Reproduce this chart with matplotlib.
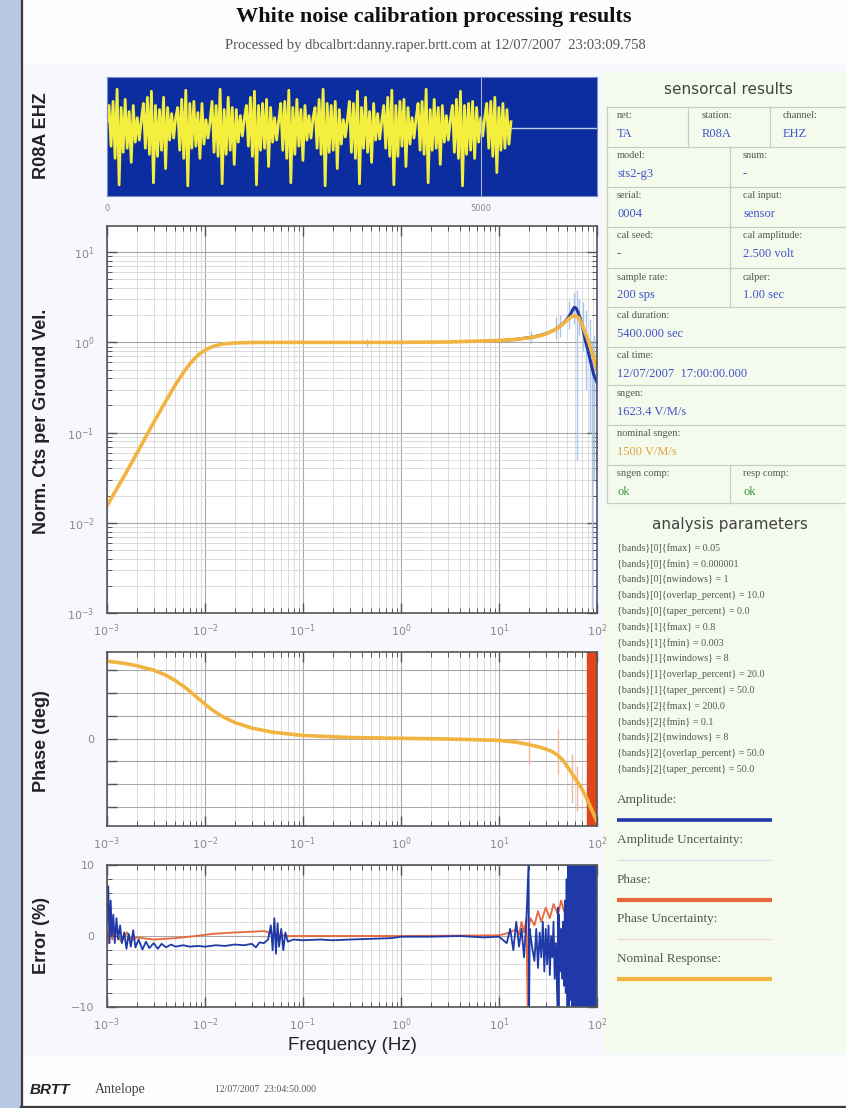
import numpy as np
import matplotlib
matplotlib.use('Agg')
import matplotlib.pyplot as plt
from matplotlib.patches import Rectangle
from matplotlib.ticker import LogLocator, NullFormatter, MultipleLocator

# ---------------- data ----------------
# waveform (R08A EHZ) samples, read by eye
wave_vals = [
    6, 22, -18, 26, -30, 38, -56, 20, -24, 28, -20, 16, -34, 22, -14, 10, -12,
    8, 24, -20, 30, -26, 36, -54, 22, -28, 18, -22, 30, -40, 20, -12, 14, -10,
    10, 20, -22, 28, -30, 37, -57, 24, -20, 26, -18, 15, -30, 24, -16, 8, -10,
    6, 26, -24, 22, -28, 38, -55, 18, -26, 30, -22, 20, -36, 18, -14, 12, -8,
    9, 22, -18, 30, -28, 36, -56, 22, -22, 24, -20, 28, -38, 20, -14, 10, -12,
    7, 24, -22, 26, -30, 37, -54, 20, -26, 28, -18, 18, -32, 22, -12, 12, -10,
    10, 20, -20, 28, -26, 38, -57, 24, -24, 22, -22, 26, -40, 18, -16, 8, -9,
    8, 26, -24, 24, -30, 36, -55, 20, -20, 30, -24, 16, -34, 24, -12, 14, -11,
    6, 22, -20, 30, -28, 37, -56, 22, -28, 26, -18, 28, -38, 20, -16, 10, -10,
    9, 24, -22, 26, -26, 38, -54, 18, -22, 28, -20, 20, -36, 22, -14, 12, -12,
    8, 22, -24, 28, -30, 36, -57, 22, -26, 24, -22, 26, -30, 20, -14, 10, -8,
    10, 24, -20, 26, -28, 30, -44, 20, -22, 24, -20, 18, -16, 6,
]
wave_end = 5400
wave_xmax = 6550
wave_ticks = [0, 5000]

# nominal response
nom_freq = [0.001, 0.0015, 0.002, 0.003, 0.004, 0.005, 0.006, 0.007, 0.008, 0.009,
            0.01, 0.012, 0.015, 0.02, 0.03, 0.05, 0.1, 0.3, 1, 3, 10, 15, 20, 25,
            30, 35, 40, 45, 50, 55, 60, 65, 70, 80, 90, 100]
nom_amp = [0.0155, 0.033, 0.058, 0.13, 0.225, 0.34, 0.46, 0.577, 0.678, 0.76,
           0.82, 0.90, 0.96, 0.985, 0.997, 1.0, 1.0, 1.0, 1.0, 1.01, 1.05, 1.08, 1.12, 1.17,
           1.24, 1.33, 1.45, 1.60, 1.78, 1.93, 1.98, 1.88, 1.6, 1.1, 0.75, 0.5]
nom_phase = [170, 165, 160, 150, 139, 127, 115, 104, 93, 84,
             75.5, 62, 48.6, 35.5, 23, 13.6, 6.8, 2.3, 0.5, -1, -4, -8, -13, -18,
             -23, -29, -37, -48, -62, -75, -88, -99, -110, -135, -160, -182]

# measured amplitude
amp_freq = [12, 15, 18, 20, 22, 25, 28, 30, 33, 36, 38, 40, 42, 45, 48, 50, 52, 55,
            57, 59, 61, 63, 65, 68, 70, 73, 76, 80, 84, 88, 92, 96, 100]
amp_meas = [1.06, 1.08, 1.11, 1.13, 1.14, 1.18, 1.22, 1.25, 1.30, 1.36, 1.40, 1.46,
            1.52, 1.62, 1.74, 1.84, 1.95, 2.15, 2.35, 2.45, 2.40, 2.25, 2.05, 1.80,
            1.60, 1.30, 1.05, 0.85, 0.68, 0.55, 0.45, 0.40, 0.36]
# amplitude uncertainty bars
amp_unc_freq = [0.45, 2.1, 21, 38, 42, 52, 58, 62, 66, 72, 78, 84, 88, 93, 97]
amp_unc_lo = [0.9, 0.95, 0.95, 1.1, 1.15, 1.4, 1.6, 0.05, 1.2, 0.8, 0.3, 0.1, 0.0011, 0.03, 0.2]
amp_unc_hi = [1.1, 1.06, 1.35, 1.9, 2.0, 2.9, 3.5, 3.8, 3.0, 2.8, 2.3, 1.8, 1.0, 1.2, 0.8]

# measured phase
ph_freq = [10, 15, 20, 25, 30, 35, 40, 45, 50, 55, 60, 65, 70, 75, 80]
ph_meas = [-4, -7, -14, -17, -24, -28, -38, -47, -63, -74, -90, -98, -112, -122, -140]
ph_wrap_freq = [81, 81.7, 82.4, 83.1, 83.8, 84.5, 85.2, 85.9, 86.6, 87.3, 88, 88.7,
                89.4, 90.1, 90.8, 91.5, 92.2, 92.9, 93.6, 94.3, 95, 95.7, 96.4, 97.1,
                97.8, 98.5, 99.2, 99.9]
ph_unc_freq = [20, 40, 55, 62]
ph_unc_lo = [-55, -77, -142, -160]
ph_unc_hi = [-4, 18, -33, -60]
phase_ticks = [-150, -100, -50, 0, 50, 100, 150]

# error (%)
err_amp_freq = [0.00100, 0.00103, 0.00106, 0.00109, 0.00112, 0.00116, 0.00120, 0.00125,
                0.00130, 0.00136, 0.00142, 0.00150, 0.00158, 0.00166, 0.00175, 0.00185,
                0.00195, 0.0021, 0.0023, 0.0025, 0.0027, 0.0030, 0.0033, 0.0036, 0.0040,
                0.0045, 0.0050, 0.0060, 0.0070, 0.0085, 0.010, 0.013, 0.016, 0.020, 0.025,
                0.030, 0.033, 0.036, 0.040, 0.044, 0.047, 0.049, 0.051, 0.053, 0.055, 0.057,
                0.060, 0.063, 0.066, 0.070, 0.08, 0.1, 0.15, 0.2, 0.3, 0.5, 0.8, 1.0, 2, 4,
                7, 10, 12, 13, 14, 15, 16, 17, 18, 19, 20, 20.3, 20.6, 21, 22, 23, 24, 25,
                26, 27, 28, 29, 30, 31, 32, 33, 34, 35, 36, 37, 38, 39.5, 40, 40.5, 41, 42,
                43, 44, 45, 46, 47, 48, 49, 50, 51, 52, 53, 54, 55, 56, 57, 58, 59, 60, 61,
                62, 63, 64, 65, 66, 67, 68, 69, 70, 71, 72, 73, 74, 75, 76, 77, 78, 79, 80,
                81, 82, 83, 84, 85, 86, 87, 88, 89, 90, 91, 92, 93, 94, 95, 96, 97, 98, 99, 100]
err_amp = [2, 7, -1, 5, 0, 3, -1, 2.5,
           -0.5, 1.5, -1, 0.5, -1.8, 0.3, -1.5, 0.8,
           -1.6, -0.5, -1.9, -0.8, -1.7, -1.0, -1.8, -1.1, -1.6,
           -1.2, -1.5, -1.3, -1.5, -1.4, -1.5, -1.3, -1.4, -1.2, -1.3,
           -1.1, -1.6, -0.9, -1.0, -0.5, 1.5, -2.0, 2.5, -2.5, 1.8, -1.5,
           1.0, -2.0, 0.5, -0.8, -0.5, -0.6, -0.5, -0.6, -0.5, -0.4, -0.3, -0.1, -0.1, 0,
           -0.2, -0.1, -1, 1, -2, 2, -1.5, 1, -3, 2, 10, -10, 1, 0, -2, -3.5, 1, -4.5,
           0.5, -3, 2, -5, 1, -4, 1.5, -5.5, 0, -3, 2, -6, -1, -10, 4, -10, 3, -5,
           1, -6, 2, -7, 5, -8, 8, -10, 10, -10, 10, -9, 10, -10, 10, -10, 10, -10, 9,
           -10, 10, -10, 10, -10, 10, -10, 10, -10, 10, -10, 10, -10, 10, -10, 10, -10, 10, -10,
           10, -10, 10, -10, 10, -10, 10, -10, 10, -10, 10, -10, 10, -10, 10, -10, 10, -10, 10, 6]
err_ph_freq = [0.00100, 0.00104, 0.00108, 0.00113, 0.00118, 0.0013, 0.0014, 0.0016, 0.0018,
               0.002, 0.003, 0.005, 0.008, 0.012, 0.02, 0.03, 0.04, 0.05, 0.07, 0.1, 1, 10,
               13, 15, 16, 17, 18, 19, 19.6, 20.2, 21, 23, 25, 27, 30, 33, 36, 40, 43, 46,
               50, 55, 60, 65, 66, 68, 70, 72, 74, 76, 78, 80]
err_ph = [1, -1, 2, -0.5, 1, 0, -0.8, 0.5, -0.6,
          -0.2, -0.5, -0.3, 0, 0.3, 0.5, 0.6, 0.7, 0.3, 0, 0, 0, 0.1,
          0.5, 1, 0.2, 2, 0.5, 2.5, -10, 1.5, 2.5, 1.5, 3.5, 2, 4, 2.5, 4.5, 3, 5, 3.5,
          5.5, 4.5, 6.5, 7, 5, -10, 8, -10, 3, -10, 2, -10]

# right panel content
title = "White noise calibration processing results"
subtitle = "Processed by dbcalbrt:danny.raper.brtt.com at 12/07/2007  23:03:09.758"
table_rows = [
    [("net:", "TA"), ("station:", "R08A"), ("channel:", "EHZ")],
    [("model:", "sts2-g3"), ("snum:", "-")],
    [("serial:", "0004"), ("cal input:", "sensor")],
    [("cal seed:", "-"), ("cal amplitude:", "2.500 volt")],
    [("sample rate:", "200 sps"), ("calper:", "1.00 sec")],
    [("cal duration:", "5400.000 sec")],
    [("cal time:", "12/07/2007  17:00:00.000")],
    [("sngen:", "1623.4 V/M/s")],
    [("nominal sngen:", "1500 V/M/s")],
    [("sngen comp:", "ok"), ("resp comp:", "ok")],
]
params = [
    "{bands}[0]{fmax} = 0.05",
    "{bands}[0]{fmin} = 0.000001",
    "{bands}[0]{nwindows} = 1",
    "{bands}[0]{overlap_percent} = 10.0",
    "{bands}[0]{taper_percent} = 0.0",
    "{bands}[1]{fmax} = 0.8",
    "{bands}[1]{fmin} = 0.003",
    "{bands}[1]{nwindows} = 8",
    "{bands}[1]{overlap_percent} = 20.0",
    "{bands}[1]{taper_percent} = 50.0",
    "{bands}[2]{fmax} = 200.0",
    "{bands}[2]{fmin} = 0.1",
    "{bands}[2]{nwindows} = 8",
    "{bands}[2]{overlap_percent} = 50.0",
    "{bands}[2]{taper_percent} = 50.0",
]
legend_labels = ["Amplitude:", "Amplitude Uncertainty:", "Phase:", "Phase Uncertainty:",
                 "Nominal Response:"]

# ---------------- styles ----------------
C_AMP = '#1f3aa8'
C_AMP_UNC = '#a9c4ee'
C_PH = '#e8663c'
C_PH_UNC = '#f3b4a2'
C_NOM = '#f2b440'
SERIF = 'Liberation Serif'
SANS = 'Liberation Sans'

W, H = 846, 1108
fig = plt.figure(figsize=(W / 100, H / 100), dpi=100)
fig.patch.set_facecolor('#f6f8fd')

bg = fig.add_axes([0, 0, 1, 1])
bg.set_xlim(0, W)
bg.set_ylim(H, 0)
bg.axis('off')

# page decorations
bg.add_patch(Rectangle((0, 0), 21, H, color='#b9c9e3', zorder=0))
bg.plot([21.5, 21.5], [0, H], color='#3c3c3c', lw=1.6, zorder=1)
bg.add_patch(Rectangle((22, 0), W - 22, 62, color='#fcfdff', zorder=0))
bg.add_patch(Rectangle((22, 1056), W - 22, 50, color='#fdfdfe', zorder=0))
bg.plot([21, W], [1106.5, 1106.5], color='#3c3c3c', lw=1.6, zorder=1)
bg.add_patch(Rectangle((604, 72), W - 604, 980, color='#f4fbec', zorder=0))

bg.text(434, 17, title, ha='center', va='center', family=SERIF, weight='bold',
        fontsize=16, color='#111')
bg.text(435, 45, subtitle, ha='center', va='center', family=SERIF, fontsize=10.5,
        color='#555')

# table
bg.text(728, 90, "sensorcal results", ha='center', va='center', family='DejaVu Sans',
        fontsize=11, color='#444')
row_lines = [107, 147, 187, 227, 268, 307, 347, 385, 425, 465, 503]
for yl in row_lines:
    bg.plot([607, W], [yl, yl], color='#c9cdc2', lw=0.9)
bg.plot([607, 607], [107, 503], color='#c9cdc2', lw=0.9)
bg.plot([688, 688], [107, 147], color='#c9cdc2', lw=0.9)
bg.plot([770, 770], [107, 147], color='#c9cdc2', lw=0.9)
bg.plot([730, 730], [147, 307], color='#c9cdc2', lw=0.9)
bg.plot([730, 730], [465, 503], color='#c9cdc2', lw=0.9)
for r, cells in enumerate(table_rows):
    top = row_lines[r]
    if len(cells) == 3:
        xs = [617, 702, 783]
    else:
        xs = [617, 743]
    for (lab, val), x in zip(cells, xs):
        vcol = '#3f52cc'
        if lab == "nominal sngen:":
            vcol = '#e0a040'
        if val == "ok":
            vcol = '#3a9a3a'
        bg.text(x, top + 9, lab, ha='left', va='center', family=SERIF, fontsize=7.5,
                color='#555')
        bg.text(x, top + 27, val, ha='left', va='center', family=SERIF, fontsize=9,
                color=vcol)

bg.text(730, 525, "analysis parameters", ha='center', va='center', family='DejaVu Sans',
        fontsize=11, color='#444')
for i, p in enumerate(params):
    bg.text(617, 548 + i * 15.8, p, ha='left', va='center', family=SERIF, fontsize=7.2,
            color='#555')

leg_colors = [C_AMP, '#d8e3f2', C_PH, '#f2d8d0', C_NOM]
leg_lw = [2.6, 1.0, 3.0, 1.0, 3.0]
for i, (lab, col, lw) in enumerate(zip(legend_labels, leg_colors, leg_lw)):
    y = 800 + i * 39.8
    bg.text(617, y, lab, ha='left', va='center', family=SERIF, fontsize=9.5, color='#555')
    bg.plot([617, 772], [y + 20, y + 20], color=col, lw=lw, solid_capstyle='butt')

# axis labels
lab_kw = dict(family=SANS, weight='bold', fontsize=13, color='#222', rotation=90,
              ha='center', va='center')
bg.text(42, 136, "R08A EHZ", **lab_kw)
bg.text(42, 421, "Norm. Cts per Ground Vel.", **lab_kw)
bg.text(42, 741, "Phase (deg)", **lab_kw)
bg.text(42, 935, "Error (%)", **lab_kw)
bg.text(352, 1046, "Frequency (Hz)", family=SANS, fontsize=13.5, color='#222',
        ha='center', va='center')

# footer
bg.text(30, 1090, "BRTT", family=SANS, weight='bold', style='italic', fontsize=11,
        color='#222', va='center')
bg.text(95, 1090, "Antelope", family=SERIF, fontsize=10, color='#444', va='center')
bg.text(215, 1090, "12/07/2007  23:04:50.000", family=SERIF, fontsize=7, color='#555',
        va='center')


def box(x0, y0, x1, y1):
    return [x0 / W, 1 - y1 / H, (x1 - x0) / W, (y1 - y0) / H]


# ---------------- waveform ----------------
wax = fig.add_axes(box(107, 77, 597, 196))
wax.set_facecolor('#0b2d9f')
wx = np.linspace(0, wave_end, len(wave_vals))
wax.plot(wx, wave_vals, color='#f3ef3c', lw=2.0)
wax.plot([wave_end, wave_xmax], [0, 0], color='#c4cae2', lw=1.0)
wax.axvline(5000, color='#a8b4e0', lw=0.8)
wax.set_xlim(0, wave_xmax)
wax.set_ylim(-67, 50)
wax.set_yticks([])
wax.set_xticks(wave_ticks)
wax.tick_params(axis='x', length=0, labelsize=6, labelcolor='#888', pad=6)
for s in wax.spines.values():
    s.set_color('#7d8cc8')


def style_freq_axis(ax):
    ax.set_xscale('log')
    ax.set_xlim(1e-3, 1e2)
    ax.xaxis.set_major_locator(LogLocator(base=10, numticks=20))
    ax.xaxis.set_minor_locator(LogLocator(base=10, subs=np.arange(2, 10), numticks=100))
    ax.xaxis.set_minor_formatter(NullFormatter())
    ax.set_facecolor('white')
    ax.tick_params(which='both', direction='in', top=True, right=True, color='#555',
                   labelcolor='#8a8a8a', labelsize=8, pad=7)
    ax.tick_params(which='major', length=7, width=1.0)
    ax.tick_params(which='minor', length=3.5, width=0.7)
    ax.grid(which='major', color='#a8a8a8', lw=0.8)
    ax.grid(which='minor', color='#d6d6d6', lw=0.6)
    ax.set_axisbelow(True)
    for s in ax.spines.values():
        s.set_color('#555')
        s.set_linewidth(1.2)


# ---------------- amplitude ----------------
aax = fig.add_axes(box(107, 226, 597, 613))
style_freq_axis(aax)
aax.set_yscale('log')
aax.set_ylim(1e-3, 19.5)
aax.yaxis.set_major_locator(LogLocator(base=10, numticks=20))
aax.yaxis.set_minor_locator(LogLocator(base=10, subs=np.arange(2, 10), numticks=100))
aax.yaxis.set_minor_formatter(NullFormatter())
aax.tick_params(axis='y', pad=9)
aax.vlines(amp_unc_freq, amp_unc_lo, amp_unc_hi, color=C_AMP_UNC, lw=1.0)
aax.plot(amp_freq, amp_meas, color=C_AMP, lw=2.2)
aax.plot(nom_freq, nom_amp, color=C_NOM, lw=2.6)

# ---------------- phase ----------------
pax = fig.add_axes(box(107, 652, 597, 826))
style_freq_axis(pax)
pax.set_ylim(-192, 190)
pax.set_yticks(phase_ticks, labels=['0' if t == 0 else '' for t in phase_ticks])
pax.tick_params(axis='y', pad=9)
pax.vlines(ph_unc_freq, ph_unc_lo, ph_unc_hi, color=C_PH_UNC, lw=1.0)
pax.vlines(ph_wrap_freq, -192, 190, color='#e0461c', lw=1.6)
pax.plot(ph_freq, ph_meas, color=C_PH, lw=1.5)
pax.plot(nom_freq, nom_phase, color=C_NOM, lw=2.6)

# ---------------- error ----------------
eax = fig.add_axes(box(107, 865, 597, 1007))
style_freq_axis(eax)
eax.set_ylim(-10, 10)
eax.set_yticks([-10, 0, 10])
eax.yaxis.set_minor_locator(MultipleLocator(2))
eax.tick_params(axis='y', pad=9)
eax.plot(err_ph_freq, err_ph, color=C_PH, lw=1.3)
eax.plot(err_amp_freq, err_amp, color=C_AMP, lw=1.3)

fig.savefig('out.png', dpi=100, facecolor=fig.get_facecolor())
